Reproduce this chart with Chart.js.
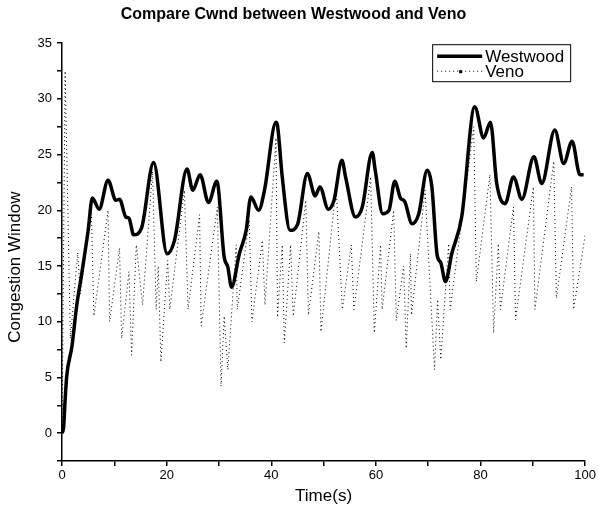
<!DOCTYPE html>
<html>
<head>
<meta charset="utf-8">
<script src="https://cdn.jsdelivr.net/npm/chart.js@4/dist/chart.umd.min.js"></script>
<style>
  html,body{margin:0;padding:0;background:#fff;}
  #wrap{width:598px;height:507px;}
</style>
</head>
<body>
<div id="wrap"><canvas id="c" width="598" height="507"></canvas></div>
<script>
/* ––––– data ––––– */
const wwTime = [0,0.3,0.6,0.9,1.9,2.8,3.8,5.0,5.8,7.1,8.8,10.3,11.0,12.2,12.8,13.7,15.2,17.5,20.1,21.5,
  23.9,25.0,26.4,28.0,29.6,31.0,31.7,32.4,33.9,35.2,36.1,37.6,38.7,40.9,41.2,42.1,43.6,45.0,46.9,48.4,
  49.3,50.9,52.0,53.5,54.2,56.1,57.4,59.3,59.9,61.3,62.5,63.6,64.7,65.5,66.9,68.2,69.8,70.7,71.7,72.4,
  73.3,74.5,76.4,78.9,80.6,81.9,83.1,84.7,86.3,87.9,90.2,91.7,94.2,95.9,97.5,99.0,99.7];
const wwCwnd = [0,0.5,3.0,5.1,7.8,11.4,14.4,18.2,21.1,20.1,22.7,20.9,21.0,19.4,19.3,17.8,18.4,24.3,16.1,17.3,
  23.7,21.8,23.2,20.7,22.6,15.8,14.9,13.1,16.1,18.2,21.2,20.0,21.8,27.9,27.6,23.0,18.2,18.7,23.3,21.3,
  22.1,20.1,20.9,24.5,23.0,19.4,20.3,25.2,23.5,19.7,20.0,22.6,21.1,20.8,18.8,19.7,23.6,22.1,16.0,15.3,
  13.6,16.1,19.4,29.3,26.5,27.9,22.4,20.6,23.0,21.0,24.8,22.4,27.2,24.2,26.2,23.2,23.2];

const venoTime = [0,0.6,1.6,3.0,3.5,5.6,6.1,8.8,9.1,11.0,11.4,12.8,13.3,14.2,15.4,17.3,18.0,18.4,18.9,20.2,
  20.6,23.4,24.1,26.3,26.6,29.7,30.4,31.0,31.7,33.3,33.5,35.8,36.3,38.3,38.8,40.9,41.2,42.1,42.5,43.7,
  44.2,46.6,47.1,49.1,49.5,52.4,53.6,55.3,55.8,59.0,59.7,60.9,61.2,63.4,63.9,65.3,65.8,66.6,66.8,69.4,
  71.2,71.8,72.4,73.9,74.2,78.7,79.2,81.8,82.5,83.4,83.8,86.3,86.7,90.1,90.4,94.0,94.5,97.4,97.8,100];
const venoCwnd = [0,32.5,8.5,16.2,12.5,20,10.5,20,10,16.6,8.5,14.5,7.0,16.9,11.5,23.5,11.1,15,6.4,15.5,
  11.1,21.8,11.1,19.6,9.6,20.3,4.2,10.5,5.7,16.9,11.1,19.1,10.0,17.3,11.5,26.5,10.4,16.9,8.1,16.9,
  10.5,20.9,10.6,18.1,9.1,22.1,11.1,16.9,11.1,23.0,9.0,16.9,11.1,20.0,10.1,15.0,7.6,16.1,10.6,21.8,
  5.7,12.0,6.6,17.0,11.1,27.5,13.6,23.2,9.0,17.0,11.1,20.3,10.2,22.1,11.1,24.4,12.1,22.1,11.1,17.8];

const xTicks = [0,20,40,60,80,100];
const yTicks = [0,5,10,15,20,25,30,35];
const yTitle = 'Congestion Window';

const pts = (xs, ys) => xs.map((x,i)=>({x, y:ys[i]}));

/* ––––– legend in a box, top right of the plot ––––– */
const boxLegend = {
  id:'boxLegend',
  afterDraw(chart){
    const {ctx, chartArea:a} = chart;
    const x0 = a.right - 153, y0 = a.top + 1, w = 138, h = 37;
    ctx.save();
    ctx.strokeStyle = '#000'; ctx.lineWidth = 1;
    ctx.strokeRect(x0+0.5, y0+0.5, w, h);
    ctx.font = '17px "Liberation Sans", Arial, sans-serif';
    ctx.textBaseline = 'middle'; ctx.fillStyle = '#000';
    chart.data.datasets.forEach((ds,i)=>{
      const yy = y0 + 12 + i*15;
      ctx.beginPath();
      ctx.lineWidth = ds.borderWidth;
      ctx.setLineDash(ds.borderDash || []);
      ctx.moveTo(x0+5, yy); ctx.lineTo(x0+50, yy); ctx.stroke();
      ctx.setLineDash([]);
      if (ds.borderDash) { ctx.fillRect(x0+27, yy-1, 3, 3); }
      ctx.fillText(ds.label, x0+53, yy+1);
    });
    /* y-axis title sits a little below the axis centre in the original */
    ctx.translate(15, a.top + (a.bottom - a.top)/2 + 15);
    ctx.rotate(-Math.PI/2);
    ctx.textAlign = 'center';
    ctx.fillText(yTitle, 0, 0);
    ctx.restore();
  }
};

const font = {family:'"Liberation Sans", Arial, sans-serif', size:13};

new Chart(document.getElementById('c').getContext('2d'), {
  type:'line',
  data:{datasets:[
    {label:'Westwood', data:pts(wwTime, wwCwnd), borderColor:'#000', borderWidth:3.5,
     pointRadius:0, cubicInterpolationMode:'monotone', fill:false},
    {label:'Veno', data:pts(venoTime, venoCwnd), borderColor:'#000', borderWidth:1,
     borderDash:[1,3], pointRadius:0, tension:0, fill:false}
  ]},
  options:{
    responsive:false, animation:false,
    layout:{padding:{left:0, right:11, top:0, bottom:0}},
    plugins:{
      legend:{display:false}, tooltip:{enabled:false},
      title:{display:true, text:'Compare Cwnd between Westwood and Veno', color:'#000',
             font:{...font, size:16, weight:'bold'}, padding:{top:5, bottom:19}}
    },
    scales:{
      x:{type:'linear', min:0, max:100,
         ticks:{stepSize:10, color:'#000', font, padding:2, maxRotation:0,
                callback:v => xTicks.includes(v) ? v : ''},
         grid:{drawOnChartArea:false, drawTicks:true, tickLength:5, color:'#000', lineWidth:1.5},
         border:{display:true, color:'#000', width:1.5},
         title:{display:true, text:'Time(s)', color:'#000', font:{...font, size:17}, padding:{top:1,bottom:0}}},
      y:{min:-2.5, max:35,
         ticks:{stepSize:2.5, color:'#000', font, padding:5,
                callback:v => yTicks.includes(v) ? v : ''},
         grid:{drawOnChartArea:false, drawTicks:true, tickLength:5, color:'#000', lineWidth:1.5},
         border:{display:true, color:'#000', width:1.5},
         title:{display:false},
         afterFit(s){ s.width = 62; }}
    }
  },
  plugins:[boxLegend]
});
</script>
</body>
</html>
